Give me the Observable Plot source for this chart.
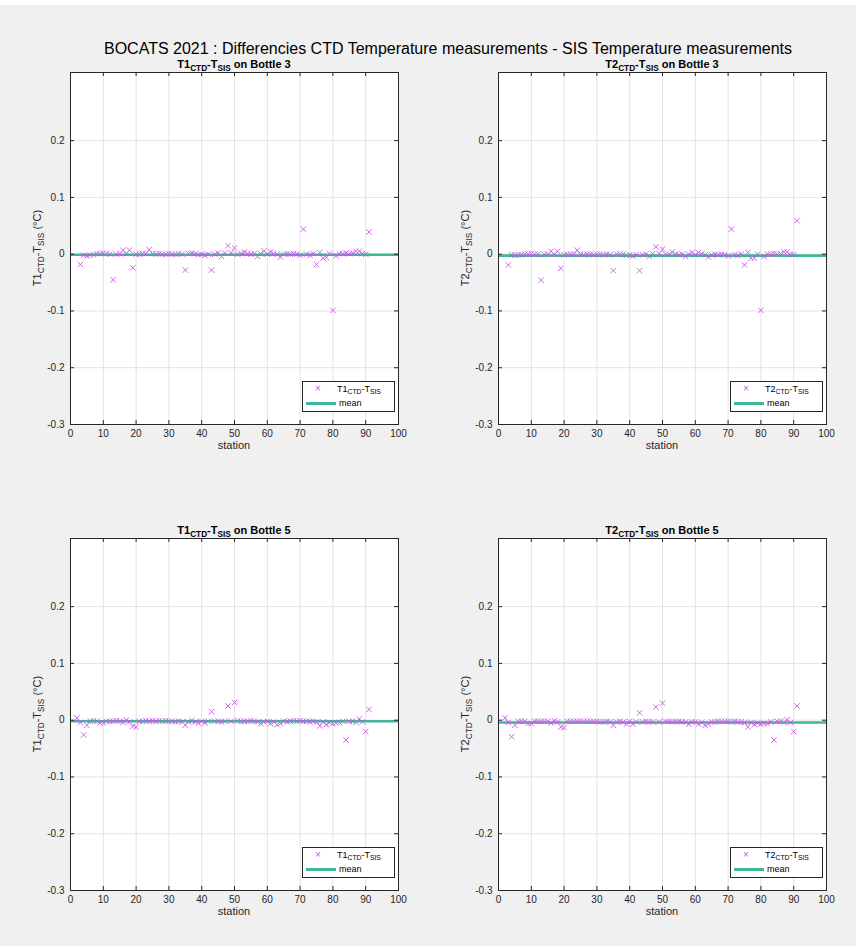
<!DOCTYPE html>
<html>
<head>
<meta charset="utf-8">
<script src="https://cdn.jsdelivr.net/npm/d3@7"></script>
<script src="https://cdn.jsdelivr.net/npm/@observablehq/plot@0.6"></script>
<style>
  html, body { margin: 0; padding: 0; background: #ffffff; }
  #fig { position: relative; width: 862px; height: 952px; overflow: hidden; background: #ffffff; font-family: "Liberation Sans", Arial, Helvetica, sans-serif; color: #262626; }
  #bg { position: absolute; left: 0; top: 5px; width: 856px; height: 941px; background: #f0f0f0; }
  .abs { position: absolute; }
  .ptitle { font-weight: bold; font-size: 11px; text-align: center; line-height: 12px; color: #000; white-space: nowrap; }
  .ptitle sub, .ylab sub, .leg sub { font-size: 0.75em; vertical-align: -0.35em; line-height: 0; }
  .xlab { font-size: 11px; text-align: center; line-height: 14px; }
  .ylab { font-size: 11px; line-height: 14px; white-space: nowrap; text-align: center; transform: translate(-50%, -50%) rotate(-90deg); }
  .leg { background: #fff; border: 1px solid #262626; box-sizing: border-box; font-size: 9px; color: #000; }
  .maintitle { font-size: 16px; text-align: center; line-height: 16px; color: #000; white-space: nowrap; }
</style>
</head>
<body>
<div id="fig"><div id="bg"></div></div>
<script>
// ---------- data ----------
const stations = [2,3,4,5,6,7,8,9,10,11,12,13,14,15,16,17,18,19,20,21,22,23,24,25,26,27,28,29,30,31,32,33,34,35,36,37,38,39,40,41,42,43,44,45,46,47,48,49,50,51,52,53,54,55,56,57,58,59,60,61,62,63,64,65,66,67,68,69,70,71,72,73,74,75,76,77,78,79,80,81,82,83,84,85,86,87,88,89,90,91];

// T1 CTD - T SIS, bottle 3
const t1Bottle3 = [null,-0.018,-0.002,-0.003,-0.002,-0.001,0.001,0.001,0.002,0.001,
  0.000,-0.045,0.000,0.001,0.007,0.001,0.007,-0.024,0.000,0.000,
  0.001,0.001,0.008,0.001,0.000,0.001,0.000,0.000,0.001,0.000,
  0.000,0.001,0.000,-0.028,0.001,0.002,0.001,-0.001,0.000,-0.002,
  0.000,-0.028,0.000,0.002,-0.004,0.002,0.015,0.002,0.011,0.000,
  0.001,0.004,0.001,0.000,0.001,-0.004,0.001,0.006,0.000,0.004,
  0.001,0.000,-0.005,0.000,0.001,0.000,0.001,0.000,-0.002,0.044,
  0.000,-0.002,0.001,-0.018,0.003,-0.007,-0.006,0.001,-0.099,-0.003,
  0.001,0.001,0.002,0.001,0.002,0.005,0.005,0.001,0.000,0.039];

// T2 CTD - T SIS, bottle 3
const t2Bottle3 = [null,-0.019,-0.001,-0.002,-0.001,-0.001,0.000,0.000,0.001,0.000,
  0.000,-0.046,0.000,0.000,0.005,0.000,0.005,-0.025,-0.001,0.000,
  0.000,0.000,0.007,0.000,-0.001,0.000,0.000,-0.001,0.000,0.000,
  -0.001,0.000,-0.001,-0.029,0.000,0.000,0.000,-0.002,-0.001,-0.003,
  -0.001,-0.029,-0.001,0.000,-0.004,0.001,0.013,0.001,0.009,0.000,
  0.000,0.004,0.000,-0.001,0.000,-0.004,0.000,0.003,-0.001,0.003,
  0.000,-0.001,-0.005,-0.001,0.000,-0.001,0.000,-0.001,-0.003,0.044,
  -0.001,-0.002,0.000,-0.019,0.003,-0.007,-0.007,0.000,-0.099,-0.004,
  0.000,0.000,0.001,0.000,0.001,0.004,0.004,0.000,-0.001,0.059];

// T1 CTD - T SIS, bottle 5
const t1Bottle5 = [0.004,-0.004,-0.026,-0.009,-0.002,-0.001,-0.002,-0.005,-0.005,-0.002,
  -0.002,-0.002,-0.001,-0.002,-0.004,0.000,-0.003,-0.011,-0.012,-0.002,
  -0.002,-0.001,-0.002,-0.001,-0.002,-0.001,-0.002,-0.001,-0.002,-0.002,
  -0.003,-0.002,-0.003,-0.009,-0.003,-0.001,-0.003,-0.005,-0.002,-0.005,
  -0.002,0.015,-0.002,-0.002,-0.003,-0.002,0.025,-0.002,0.031,-0.001,
  -0.002,-0.002,-0.002,-0.001,-0.002,-0.003,-0.006,-0.003,-0.002,-0.006,
  -0.003,-0.008,-0.006,-0.002,-0.003,-0.002,-0.001,-0.002,-0.001,-0.002,
  -0.002,-0.003,-0.002,-0.003,-0.010,-0.003,-0.008,-0.004,-0.006,-0.005,
  -0.004,-0.002,-0.035,-0.002,-0.002,-0.004,0.002,-0.003,-0.020,0.019];

// T2 CTD - T SIS, bottle 5
const t2Bottle5 = [0.004,-0.004,-0.029,-0.009,-0.002,-0.002,-0.002,-0.006,-0.006,-0.002,
  -0.002,-0.002,-0.002,-0.002,-0.005,-0.001,-0.003,-0.012,-0.013,-0.002,
  -0.002,-0.002,-0.002,-0.002,-0.002,-0.002,-0.002,-0.002,-0.002,-0.003,
  -0.003,-0.002,-0.003,-0.009,-0.003,-0.002,-0.003,-0.007,-0.002,-0.007,
  -0.003,0.013,-0.003,-0.002,-0.003,-0.003,0.023,-0.003,0.030,-0.002,
  -0.002,-0.003,-0.002,-0.002,-0.003,-0.003,-0.007,-0.003,-0.003,-0.007,
  -0.004,-0.009,-0.007,-0.003,-0.003,-0.002,-0.002,-0.002,-0.002,-0.003,
  -0.002,-0.003,-0.003,-0.004,-0.012,-0.004,-0.008,-0.005,-0.007,-0.006,
  -0.006,-0.003,-0.035,-0.002,-0.002,-0.004,0.001,-0.004,-0.020,0.025];

const meanValues = [-0.001, -0.0025, -0.002, -0.004];
const sensorNames = ["T1", "T2", "T1", "T2"];
const bottleNumbers = [3, 3, 5, 5];
const xTicks = [0,10,20,30,40,50,60,70,80,90,100];
const yTicks = [-0.3,-0.2,-0.1,0,0.1,0.2];
const xGrid = [10,20,30,40,50,60,70,80,90];
const yGrid = [-0.2,-0.1,0,0.1,0.2];
const mainTitle = "BOCATS 2021 : Differencies CTD Temperature measurements - SIS Temperature measurements";

// ---------- layout ----------
const W = 431, H = 476;
const ML = 70, MR = 33, MT = 72, MB = 52;
const yDomain = [-0.3, 0.32];
const xDomain = [0, 100];
const panelPos = [[0, 0], [428, 0], [0, 466], [428, 466]];
const series = [t1Bottle3, t2Bottle3, t1Bottle5, t2Bottle5];
const markerColor = "#cc55e8";
const meanColor = "#3fb59c";
const axisColor = "#262626";
const gridColor = "#e3e3e3";

const fig = document.getElementById("fig");

function el(tag, cls, styles, html) {
  const e = document.createElement(tag);
  if (cls) e.className = cls;
  Object.assign(e.style, styles || {});
  if (html != null) e.innerHTML = html;
  fig.appendChild(e);
  return e;
}

// main title
el("div", "abs maintitle", {left: "70px", width: "756px", top: "41px"}, mainTitle);

const plotH = H - MT - MB;
const plotW = W - ML - MR;
const tickLenY = (yDomain[1] - yDomain[0]) * 4 / plotH;
const tickLenX = (xDomain[1] - xDomain[0]) * 4 / plotW;

series.forEach((vals, i) => {
  const data = stations.map((s, j) => ({station: s, value: vals[j]})).filter(d => d.value != null);
  const [L, T] = panelPos[i];
  const name = sensorNames[i];
  const chart = Plot.plot({
    width: W, height: H,
    marginLeft: ML, marginRight: MR, marginTop: MT, marginBottom: MB,
    style: {background: "transparent", fontFamily: "Liberation Sans, Arial, sans-serif", fontSize: "10px", color: axisColor, overflow: "visible"},
    x: {domain: xDomain, ticks: xTicks, tickSize: 0, tickPadding: 5, label: null, tickFormat: d => String(d)},
    y: {domain: yDomain, ticks: yTicks, tickSize: 0, tickPadding: 6, label: null, tickFormat: d => String(+d.toFixed(1))},
    marks: [
      Plot.frame({fill: "white", stroke: "none"}),
      Plot.ruleX(xGrid, {stroke: gridColor, strokeWidth: 1}),
      Plot.ruleY(yGrid, {stroke: gridColor, strokeWidth: 1}),
      Plot.ruleY([meanValues[i]], {stroke: meanColor, strokeWidth: 2.6}),
      Plot.dot(data, {x: "station", y: "value", symbol: "times", r: 2.6, stroke: markerColor, strokeWidth: 0.9}),
      // inward ticks (MATLAB style), bottom/top/left/right
      Plot.ruleX(xTicks, {y1: yDomain[0], y2: yDomain[0] + tickLenY, stroke: axisColor}),
      Plot.ruleX(xTicks, {y1: yDomain[1], y2: yDomain[1] - tickLenY, stroke: axisColor}),
      Plot.ruleY(yTicks, {x1: xDomain[0], x2: xDomain[0] + tickLenX, stroke: axisColor}),
      Plot.ruleY(yTicks, {x1: xDomain[1], x2: xDomain[1] - tickLenX, stroke: axisColor}),
      Plot.frame({stroke: axisColor, strokeWidth: 1})
    ]
  });
  chart.style.position = "absolute";
  chart.style.left = L + "px";
  chart.style.top = T + "px";
  fig.appendChild(chart);

  const sub = `${name}<sub>CTD</sub>-T<sub>SIS</sub>`;
  // subplot title
  el("div", "abs ptitle", {left: (L + ML) + "px", width: plotW + "px", top: (T + MT - 14) + "px"}, `${sub} on Bottle ${bottleNumbers[i]}`);
  // x label
  el("div", "abs xlab", {left: (L + ML) + "px", width: plotW + "px", top: (T + MT + plotH + 14) + "px"}, "station");
  // y label
  el("div", "abs ylab", {left: (L + 37) + "px", top: (T + MT + plotH / 2) + "px"}, `${sub} (°C)`);
  // legend
  const leg = el("div", "abs leg", {left: (L + 302) + "px", top: (T + 381) + "px", width: "93px", height: "31px"});
  leg.innerHTML = `
    <div style="position:absolute;left:12px;top:1px;color:${markerColor};font-size:10px;line-height:12px;">×</div>
    <div style="position:absolute;left:34px;top:1px;line-height:12px;">${sub}</div>
    <div style="position:absolute;left:3px;top:20px;width:30px;height:2.6px;background:${meanColor};"></div>
    <div style="position:absolute;left:36px;top:15px;line-height:12px;">mean</div>`;
});
</script>
</body>
</html>
